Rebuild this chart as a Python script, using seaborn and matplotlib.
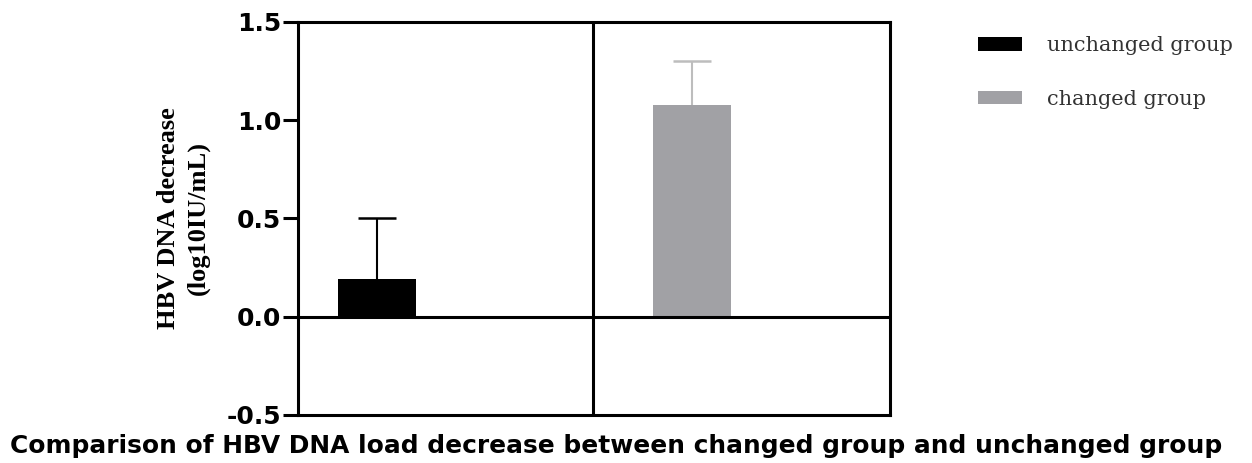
import matplotlib
matplotlib.use("Agg")
import matplotlib.pyplot as plt
import seaborn as sns
import pandas as pd
from matplotlib.patches import Patch

categories = ["unchanged group", "changed group"]
means = [0.19, 1.08]
errors = [0.31, 0.22]
bar_colors = ["#000000", "#a1a1a5"]
err_colors = ["#000000", "#bdbdbd"]
yticks = [-0.5, 0.0, 0.5, 1.0, 1.5]
ytick_labels = ["-0.5", "0.0", "0.5", "1.0", "1.5"]
ylabel = "HBV DNA decrease\n(log10IU/mL)"
title = "Comparison of HBV DNA load decrease between changed group and unchanged group"

sns.set_theme(style="white")
plt.rcParams["font.family"] = ["DejaVu Sans"]
plt.rcParams["text.color"] = "black"
plt.rcParams["axes.labelcolor"] = "black"
plt.rcParams["ytick.color"] = "black"

fig = plt.figure(figsize=(12.52, 4.63), dpi=100)
ax = fig.add_axes([0.238, 0.1037, 0.473, 0.8488])

df = pd.DataFrame({"group": categories, "value": means})
sns.barplot(data=df, x="group", y="value", hue="group", palette=bar_colors,
            width=0.25, dodge=False, legend=False, ax=ax, zorder=3,
            linewidth=0, errorbar=None)

for i, (m, e, c) in enumerate(zip(means, errors, err_colors)):
    cont = ax.errorbar(i, m, yerr=[[0], [e]], fmt="none", ecolor=c,
                       elinewidth=1.5, capsize=14, capthick=1.8, zorder=2)
    cont.lines[1][0].set_visible(False)

ax.set_xlim(-0.251, 1.629)
ax.set_ylim(-0.5, 1.5)
ax.axhline(0, color="black", lw=2.2, zorder=4)
ax.axvline(0.686, color="black", lw=2.2, zorder=4)

ax.set_yticks(yticks)
ax.set_yticklabels(ytick_labels, fontsize=18, fontweight="bold")
ax.set_xticks([])
ax.set_xlabel("")
ax.tick_params(axis="y", direction="out", length=11, width=2.2, left=True, pad=1)
for s in ax.spines.values():
    s.set_linewidth(2.2)
    s.set_color("black")

ax.set_ylabel(ylabel, fontsize=19, fontweight="bold",
              family=["Liberation Serif", "DejaVu Serif"], labelpad=12, linespacing=1.35)

handles = [Patch(facecolor=c, edgecolor="none") for c in bar_colors]
fig.legend(handles, categories, loc="upper left", bbox_to_anchor=(0.766, 0.962),
           frameon=False, prop={"family": ["DejaVu Serif"], "size": 15},
           handlelength=2.1, handleheight=0.6, handletextpad=1.2, labelspacing=1.64,
           labelcolor="#333333")

fig.text(0.492, 0.037, title, ha="center", va="center", fontsize=17.9, fontweight="bold")

fig.savefig("out.png", dpi=100)
